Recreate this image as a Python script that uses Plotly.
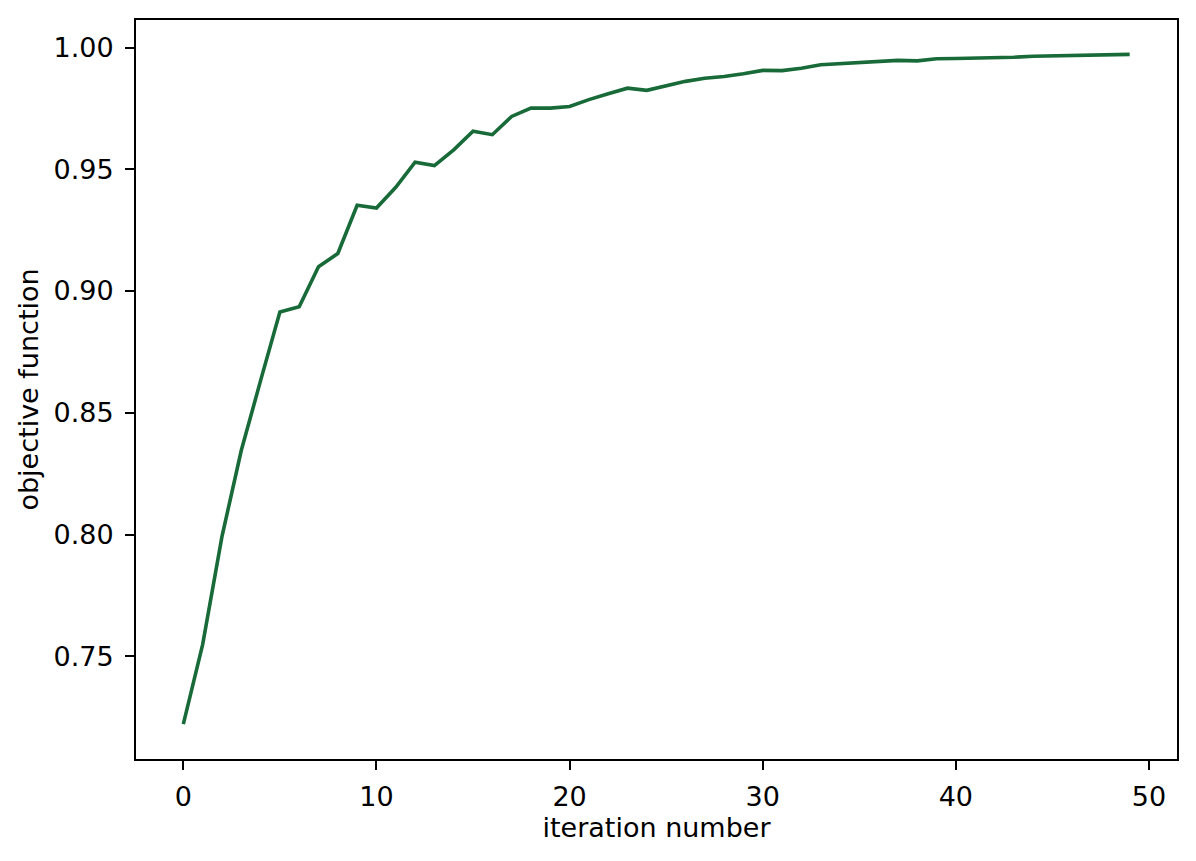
import plotly.graph_objects as go

iterations = list(range(50))
objective = [
    0.7221, 0.7548, 0.7991, 0.8345, 0.8632, 0.8914, 0.8935, 0.9100, 0.9154, 0.9352,
    0.9341, 0.9426, 0.9529, 0.9515, 0.9580, 0.9656, 0.9642, 0.9717, 0.9751, 0.9751,
    0.9758, 0.9786, 0.9810, 0.9833, 0.9824, 0.9844, 0.9861, 0.9874, 0.9881, 0.9892,
    0.9906, 0.9905, 0.9915, 0.9929, 0.9933, 0.9936, 0.9943, 0.9947, 0.9945, 0.9954,
    0.9955, 0.9956, 0.9958, 0.9960, 0.9964, 0.9966, 0.9967, 0.9970, 0.9971, 0.9972,
]
x_ticks = [0, 10, 20, 30, 40, 50]
y_ticks = [0.75, 0.80, 0.85, 0.90, 0.95, 1.00]
y_tick_labels = ["0.75", "0.80", "0.85", "0.90", "0.95", "1.00"]

fig = go.Figure()
fig.add_trace(go.Scatter(
    x=iterations, y=objective, mode="lines",
    line=dict(color="#186b38", width=3.6),
    showlegend=False,
))

font = dict(family="DejaVu Sans", size=27, color="black")
fig.update_layout(
    width=1188, height=853,
    margin=dict(l=128, r=19, t=10, b=102),
    paper_bgcolor="white", plot_bgcolor="white",
    font=font,
    xaxis=dict(
        range=[-2.45, 51.45], tickvals=x_ticks, ticks="outside", ticklen=9,
        tickwidth=2, tickcolor="black", showline=True, linecolor="black",
        linewidth=2, mirror=True, showgrid=False, zeroline=False,
        title=dict(text="iteration number", font=font, standoff=3),
        tickfont=font, ticklabelstandoff=4,
    ),
    yaxis=dict(
        range=[0.7078, 1.0113], tickvals=y_ticks, ticktext=y_tick_labels,
        ticks="outside", ticklen=9, tickwidth=2, tickcolor="black",
        showline=True, linecolor="black", linewidth=2, mirror=True,
        showgrid=False, zeroline=False,
        title=dict(text="objective function", font=font, standoff=7),
        tickfont=font, ticklabelstandoff=6,
    ),
)

fig.write_html("out.html")
